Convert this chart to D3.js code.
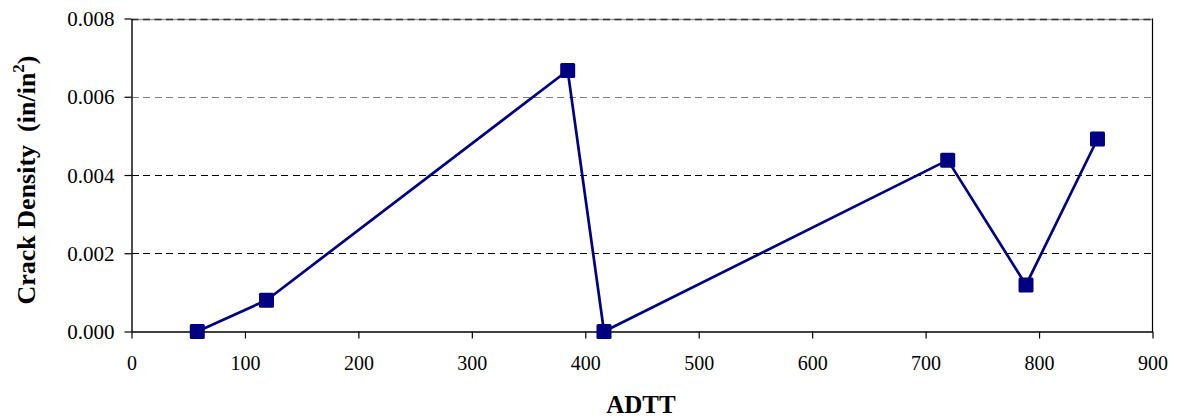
<!DOCTYPE html>
<html>
<head>
<meta charset="utf-8">
<script src="https://cdn.jsdelivr.net/npm/d3@7/dist/d3.min.js"></script>
<style>
  body { margin: 0; background: #fff; }
  svg { display: block; }
  text { font-family: "Liberation Serif", "Times New Roman", serif; }
</style>
</head>
<body>
<svg id="chart" width="1177" height="419"></svg>
<script>
const adtt = [58, 119, 384.5, 416.5, 719.5, 788.5, 851.5];
const crackDensity = [0.0000, 0.0008, 0.00667, 0.0000, 0.00438, 0.00119, 0.00492];
const xTicks = [0, 100, 200, 300, 400, 500, 600, 700, 800, 900];
const yTicks = [0.000, 0.002, 0.004, 0.006, 0.008];
const xTitle = "ADTT";

const svg = d3.select("#chart");
const mLeft = 131.5, mRight = 1152.5, mTop = 18.5, mBottom = 331.5;

const x = d3.scaleLinear().domain([0, 900]).range([mLeft, mRight]);
const y = d3.scaleLinear().domain([0, 0.008]).range([mBottom, mTop]);
const yc = v => Math.round(y(v)) + 0.5;

// gridlines
const gridColor = v => (v >= 0.006 ? "#808080" : "#000");
yTicks.filter(v => v > 0).forEach(v => {
  if (v === 0.008) {
    svg.append("line").attr("x1", mLeft).attr("x2", mRight).attr("y1", yc(v)).attr("y2", yc(v))
      .attr("stroke", "#9a9a9a").attr("stroke-width", 1.4);
    svg.append("line").attr("x1", mLeft).attr("x2", mRight).attr("y1", yc(v)).attr("y2", yc(v))
      .attr("stroke", "#333").attr("stroke-width", 1.4).attr("stroke-dasharray", "7,4.5");
  } else {
    svg.append("line").attr("x1", mLeft).attr("x2", mRight).attr("y1", yc(v)).attr("y2", yc(v))
      .attr("stroke", gridColor(v)).attr("stroke-width", 1).attr("stroke-dasharray", "7,4.5")
      .attr("shape-rendering", "crispEdges");
  }
});

// right border
svg.append("line").attr("x1", mRight).attr("x2", mRight).attr("y1", mTop).attr("y2", mBottom)
  .attr("stroke", "#000").attr("stroke-width", 1.2);

// axes
const xAxis = d3.axisBottom(x).tickValues(xTicks).tickSize(7).tickSizeOuter(0).tickFormat(d3.format("d"));
const gx = svg.append("g").attr("transform", `translate(0,${mBottom})`).call(xAxis);
gx.select(".domain").attr("stroke", "#000").attr("stroke-width", 1.4);
gx.selectAll(".tick line").attr("stroke", "#000").attr("stroke-width", 1.2);
gx.selectAll(".tick text").attr("font-family", "Liberation Serif").attr("font-size", 20)
  .attr("fill", "#000").attr("y", 0).attr("dy", 0)
  .attr("transform", "translate(0,38.5)");

const yAxis = d3.axisLeft(y).tickValues(yTicks).tickSize(7).tickSizeOuter(0).tickFormat(d3.format(".3f"));
const gy = svg.append("g").attr("transform", `translate(${mLeft},0)`).call(yAxis);
gy.select(".domain").attr("stroke", "#000").attr("stroke-width", 1.4);
gy.selectAll(".tick line").attr("stroke", "#000").attr("stroke-width", 1.2);
gy.selectAll(".tick text").attr("font-family", "Liberation Serif").attr("font-size", 21)
  .attr("fill", "#000").attr("x", -17).attr("dy", "0.34em");

// line
const pts = adtt.map((d, i) => [d, crackDensity[i]]);
svg.append("path").datum(pts)
  .attr("fill", "none").attr("stroke", "#000080").attr("stroke-width", 2.7)
  .attr("stroke-linejoin", "round")
  .attr("d", d3.line().x(d => x(d[0])).y(d => y(d[1])));

// markers
const ms = 15;
svg.selectAll("rect.m").data(pts).enter().append("rect").attr("class", "m")
  .attr("x", d => x(d[0]) - ms / 2).attr("y", d => y(d[1]) - ms / 2)
  .attr("width", ms).attr("height", ms).attr("rx", 1.5)
  .attr("fill", "#000080");

// titles
svg.append("text").attr("x", 641).attr("y", 413).attr("text-anchor", "middle")
  .attr("font-size", 25).attr("font-weight", "bold").text(xTitle);

const yt = svg.append("text").attr("transform", "translate(35,180) rotate(-90)")
  .attr("text-anchor", "middle").attr("font-size", 26).attr("font-weight", "bold")
  .attr("xml:space", "preserve");
yt.append("tspan").text("Crack Density  (in/in");
yt.append("tspan").attr("font-size", 17).attr("dy", -11).text("2");
yt.append("tspan").attr("dy", 11).text(")");
</script>
</body>
</html>
